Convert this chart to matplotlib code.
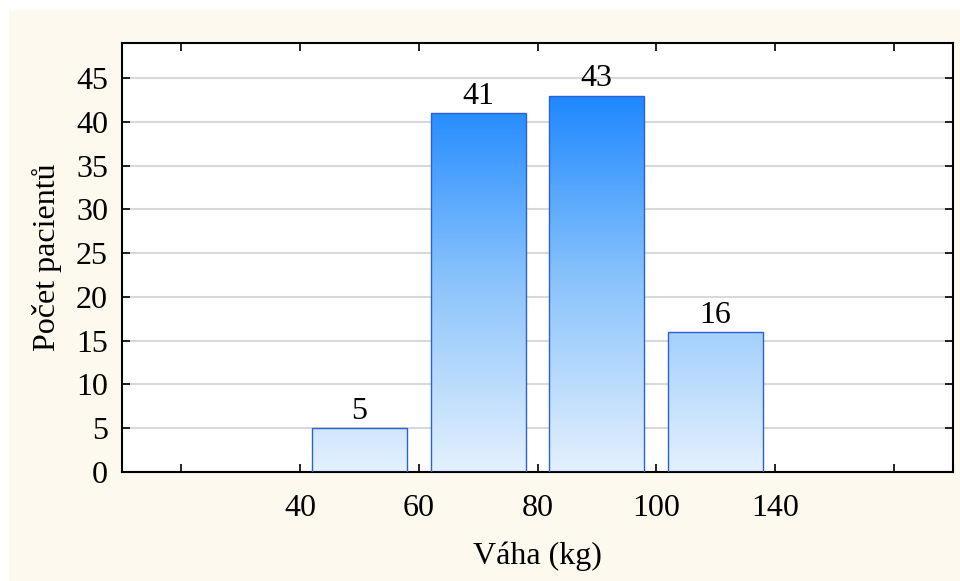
import numpy as np
import matplotlib.pyplot as plt
from matplotlib.colors import LinearSegmentedColormap
from matplotlib.patches import Rectangle

plt.rcParams['font.family'] = ['Liberation Serif', 'DejaVu Serif']

# weight classes (kg) and patient counts per class
slot_labels = ['', '40', '60', '80', '100', '140', '']
bar_pos = [1.5, 2.5, 3.5, 4.5]
counts = [5, 41, 43, 16]

fs = 23

fig = plt.figure(figsize=(9.6, 5.81), dpi=100)
fig.patch.set_facecolor('white')
fig.patches.append(Rectangle((9 / 960, 0), 1, 1 - 10 / 581, transform=fig.transFigure,
                             facecolor='#fef9ee', edgecolor='none', zorder=-10))

ax = fig.add_axes([122 / 960, 1 - 472 / 581, (953 - 122) / 960, (472 - 43) / 581])
ax.set_facecolor('white')

ax.set_yticks(np.arange(0, 50, 5))
ax.set_xticks(range(len(slot_labels)))
ax.set_xticklabels(slot_labels)

ax.yaxis.grid(True, color='#d9d9d9', lw=1.5, zorder=0)
ax.set_axisbelow(True)

# vertical fill: pale at the baseline, saturated blue near the tallest bar
cmap = LinearSegmentedColormap.from_list('blues', ['#e4f1fe', '#8cc4fb', '#1e88ff'])
grad = np.linspace(0, 1, 256).reshape(-1, 1)
top = max(counts)

bars = ax.bar(bar_pos, counts, width=0.8, facecolor='none', edgecolor='#2a62d6', lw=1.0, zorder=3)
for b, n in zip(bars, counts):
    x0 = b.get_x()
    x1 = x0 + b.get_width()
    im = ax.imshow(grad, cmap=cmap, origin='lower', aspect='auto',
                   extent=(x0, x1, 0, top), zorder=2, interpolation='bicubic')
    im.set_clip_path(b)
    ax.annotate(str(n), (b.get_x() + b.get_width() / 2, n), xytext=(0, 1.5),
                textcoords='offset points', ha='center', va='bottom', fontsize=fs)

ax.set_xlim(-0.5, 6.5)
ax.set_ylim(0, 49)

for s in ax.spines.values():
    s.set_linewidth(1.5)
ax.tick_params(direction='in', length=6, width=1.2, top=True, right=True, labelsize=fs)
ax.tick_params(axis='x', pad=16)
ax.tick_params(axis='y', pad=10)

ax.set_xlabel('Váha (kg)', fontsize=fs, labelpad=13)
ax.set_ylabel('Počet pacientů', fontsize=fs, labelpad=10)

fig.savefig('out.png', dpi=100)
